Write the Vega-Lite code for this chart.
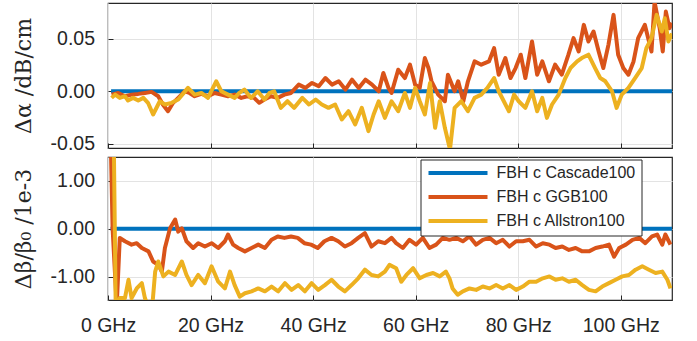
{
"$schema": "https://vega.github.io/schema/vega-lite/v6.json",
"padding": {"left": 11, "top": 2, "right": 5, "bottom": 5},
"background": "white",
"bounds": "flush",
"spacing": 9,
"config": {
  "view": {"stroke": "#262626", "strokeWidth": 1.2},
  "axis": {"labelFont": "Liberation Sans", "labelFontSize": 19.5, "labelColor": "#262626", "labelFlush": false, "gridColor": "#e3e3e3", "gridWidth": 1, "domain": false, "tickColor": "#262626", "tickSize": -5, "titleFont": "DejaVu Serif", "titleFontWeight": "normal", "titleFontSize": 22, "titleColor": "#262626"},
  "legend": {"orient": "none", "legendX": 312.5, "legendY": 2.5, "title": null, "symbolType": "stroke", "symbolSize": 3481, "symbolStrokeWidth": 4, "labelFont": "Liberation Sans", "labelFontSize": 16, "labelColor": "#262626", "padding": 6, "rowPadding": 7, "labelOffset": 7, "clipHeight": 15, "fillColor": "white", "strokeColor": "#262626", "strokeWidth": 1}
},
"datasets": {
"a": [
{"s":"C","f":0.6,"v":0},{"s":"C","f":110,"v":0},
{"s":"G","f":0.7,"v":-0.0032},{"s":"G","f":2.0,"v":-0.0016},{"s":"G","f":3.3,"v":-0.0047},{"s":"G","f":4.6,"v":-0.0032},{"s":"G","f":5.9,"v":-0.0025},{"s":"G","f":7.2,"v":-0.0016},{"s":"G","f":8.5,"v":-0.0006},{"s":"G","f":9.8,"v":-0.0047},{"s":"G","f":10.7,"v":-0.0126},{"s":"G","f":11.7,"v":-0.019},{"s":"G","f":12.7,"v":-0.011},{"s":"G","f":13.7,"v":-0.0063},{"s":"G","f":15.0,"v":0},{"s":"G","f":15.9,"v":-0.0016},{"s":"G","f":16.9,"v":-0.0047},{"s":"G","f":18.2,"v":-0.0025},{"s":"G","f":19.5,"v":-0.0047},{"s":"G","f":20.8,"v":-0.0016},{"s":"G","f":22.1,"v":-0.0032},{"s":"G","f":23.4,"v":-0.0047},{"s":"G","f":24.7,"v":-0.0032},{"s":"G","f":26.0,"v":-0.0063},{"s":"G","f":27.2,"v":-0.0047},{"s":"G","f":28.5,"v":-0.0063},{"s":"G","f":29.5,"v":-0.011},{"s":"G","f":30.5,"v":-0.0079},{"s":"G","f":31.8,"v":-0.0047},{"s":"G","f":33.1,"v":-0.0063},{"s":"G","f":34.4,"v":-0.0032},{"s":"G","f":35.7,"v":-0.0016},
{"s":"G","f":37.2,"v":0.0063},{"s":"G","f":38.5,"v":0.0032},{"s":"G","f":39.8,"v":0.0079},{"s":"G","f":41.1,"v":0.0047},{"s":"G","f":42.4,"v":0.0126},{"s":"G","f":43.7,"v":0.0063},{"s":"G","f":45.0,"v":0.0095},{"s":"G","f":46.3,"v":0.0016},{"s":"G","f":47.6,"v":0.011},{"s":"G","f":48.9,"v":0.0032},{"s":"G","f":50.2,"v":0.011},{"s":"G","f":51.5,"v":0.0063},{"s":"G","f":52.8,"v":0},{"s":"G","f":53.7,"v":0.0174},{"s":"G","f":54.7,"v":0.0032},{"s":"G","f":55.3,"v":-0.0016},{"s":"G","f":56.6,"v":0.0205},{"s":"G","f":57.9,"v":0.0126},{"s":"G","f":58.9,"v":0.0253},{"s":"G","f":59.9,"v":0.0063},{"s":"G","f":60.8,"v":0.0032},{"s":"G","f":61.8,"v":0.0316},{"s":"G","f":62.5,"v":0.0221},{"s":"G","f":63.1,"v":0.0095},{"s":"G","f":64.4,"v":-0.0032},{"s":"G","f":65.7,"v":-0.0095},{"s":"G","f":66.3,"v":0.0158},{"s":"G","f":67.6,"v":0},{"s":"G","f":68.3,"v":0.0095},{"s":"G","f":69.3,"v":-0.0095},{"s":"G","f":70.2,"v":0.0095},{"s":"G","f":71.5,"v":0.0284},{"s":"G","f":72.8,"v":0.0253},
{"s":"G","f":74.3,"v":0.0284},{"s":"G","f":75.3,"v":0.041},{"s":"G","f":76.2,"v":0.0158},{"s":"G","f":77.5,"v":0.0316},{"s":"G","f":78.5,"v":0.0126},{"s":"G","f":79.5,"v":0.0221},{"s":"G","f":80.5,"v":0.0348},{"s":"G","f":81.4,"v":0.0126},{"s":"G","f":82.7,"v":0.0474},{"s":"G","f":83.7,"v":0.0158},{"s":"G","f":84.7,"v":0.0284},{"s":"G","f":86.0,"v":0.0095},{"s":"G","f":87.2,"v":0.0253},{"s":"G","f":88.5,"v":0.0158},{"s":"G","f":89.8,"v":0.0348},{"s":"G","f":90.8,"v":0.0506},{"s":"G","f":91.8,"v":0.0379},{"s":"G","f":92.8,"v":0.0632},{"s":"G","f":93.7,"v":0.0474},{"s":"G","f":94.7,"v":0.0569},{"s":"G","f":95.7,"v":0.0379},{"s":"G","f":96.6,"v":0.0221},{"s":"G","f":97.6,"v":0.0442},{"s":"G","f":98.6,"v":0.0727},{"s":"G","f":99.5,"v":0.0348},{"s":"G","f":100.5,"v":0.0221},{"s":"G","f":101.5,"v":0.0158},{"s":"G","f":102.5,"v":0.0284},{"s":"G","f":103.4,"v":0.0506},{"s":"G","f":104.7,"v":0.0632},{"s":"G","f":106.0,"v":0.0379},{"s":"G","f":106.6,"v":0.085},{"s":"G","f":107.6,"v":0.06},{"s":"G","f":108.2,"v":0.0379},{"s":"G","f":108.8,"v":0.0758},{"s":"G","f":109.5,"v":0.06},{"s":"G","f":110,"v":0.065},
{"s":"A","f":0.7,"v":-0.0063},{"s":"A","f":1.4,"v":-0.0032},{"s":"A","f":2.3,"v":-0.0063},{"s":"A","f":3.3,"v":-0.0047},{"s":"A","f":3.9,"v":-0.0088},{"s":"A","f":4.9,"v":-0.0063},{"s":"A","f":5.9,"v":-0.0088},{"s":"A","f":6.9,"v":-0.0063},{"s":"A","f":7.8,"v":-0.011},{"s":"A","f":8.8,"v":-0.0221},{"s":"A","f":10.1,"v":-0.0095},{"s":"A","f":11.1,"v":-0.0126},{"s":"A","f":12.4,"v":-0.011},{"s":"A","f":13.7,"v":-0.0079},{"s":"A","f":15.6,"v":0.0032},{"s":"A","f":16.9,"v":-0.0032},{"s":"A","f":18.2,"v":-0.0016},{"s":"A","f":19.5,"v":-0.0063},{"s":"A","f":21.1,"v":0.0095},{"s":"A","f":22.1,"v":0},{"s":"A","f":23.4,"v":-0.0032},{"s":"A","f":24.7,"v":-0.0063},{"s":"A","f":25.6,"v":-0.0016},{"s":"A","f":26.6,"v":0.0016},{"s":"A","f":27.9,"v":-0.0063},{"s":"A","f":29.2,"v":0},{"s":"A","f":30.5,"v":-0.0079},{"s":"A","f":31.5,"v":-0.0016},{"s":"A","f":32.4,"v":0},{"s":"A","f":33.7,"v":-0.0158},{"s":"A","f":35.0,"v":-0.0095},{"s":"A","f":36.3,"v":-0.0158},
{"s":"A","f":37.9,"v":-0.0063},{"s":"A","f":39.2,"v":-0.0126},{"s":"A","f":40.5,"v":-0.0079},{"s":"A","f":41.7,"v":-0.0126},{"s":"A","f":43.0,"v":-0.0158},{"s":"A","f":44.3,"v":-0.0126},{"s":"A","f":45.6,"v":-0.0269},{"s":"A","f":46.9,"v":-0.019},{"s":"A","f":48.2,"v":-0.0316},{"s":"A","f":49.5,"v":-0.0158},{"s":"A","f":50.8,"v":-0.0379},{"s":"A","f":51.8,"v":-0.0221},{"s":"A","f":52.8,"v":-0.0095},{"s":"A","f":54.0,"v":-0.0253},{"s":"A","f":55.3,"v":-0.0095},{"s":"A","f":56.6,"v":-0.019},{"s":"A","f":57.9,"v":-0.0016},{"s":"A","f":58.9,"v":-0.0158},{"s":"A","f":59.9,"v":0.0032},{"s":"A","f":60.8,"v":-0.0095},{"s":"A","f":61.8,"v":-0.0221},{"s":"A","f":62.8,"v":0.0079},{"s":"A","f":63.8,"v":-0.0348},{"s":"A","f":64.7,"v":-0.0095},{"s":"A","f":65.7,"v":-0.0348},{"s":"A","f":66.7,"v":-0.0553},{"s":"A","f":67.6,"v":-0.0158},{"s":"A","f":68.9,"v":-0.0095},{"s":"A","f":70.2,"v":-0.019},{"s":"A","f":71.5,"v":-0.0063},{"s":"A","f":72.8,"v":-0.0032},
{"s":"A","f":74.0,"v":0.0032},{"s":"A","f":75.3,"v":0.0126},{"s":"A","f":76.2,"v":0},{"s":"A","f":77.2,"v":-0.0095},{"s":"A","f":78.2,"v":-0.019},{"s":"A","f":79.2,"v":-0.0032},{"s":"A","f":80.1,"v":-0.0095},{"s":"A","f":81.4,"v":-0.0158},{"s":"A","f":82.7,"v":0},{"s":"A","f":83.7,"v":-0.019},{"s":"A","f":84.7,"v":-0.0063},{"s":"A","f":85.6,"v":-0.0253},{"s":"A","f":86.6,"v":-0.0126},{"s":"A","f":87.9,"v":-0.0032},{"s":"A","f":89.2,"v":0.0126},{"s":"A","f":90.2,"v":0.0221},{"s":"A","f":91.5,"v":0.0284},{"s":"A","f":92.4,"v":0.0316},{"s":"A","f":93.7,"v":0.0348},{"s":"A","f":95.0,"v":0.0221},{"s":"A","f":96.0,"v":0.0126},{"s":"A","f":97.0,"v":0.0095},{"s":"A","f":98.3,"v":0},{"s":"A","f":99.2,"v":-0.0158},{"s":"A","f":100.2,"v":-0.0032},{"s":"A","f":101.5,"v":0.0032},{"s":"A","f":102.8,"v":0.0126},{"s":"A","f":104.1,"v":0.0221},{"s":"A","f":105.0,"v":0.0411},{"s":"A","f":106.0,"v":0.0506},{"s":"A","f":107.0,"v":0.0727},{"s":"A","f":108.0,"v":0.0569},{"s":"A","f":108.6,"v":0.0695},{"s":"A","f":109.3,"v":0.0474},{"s":"A","f":110,"v":0.055}
],
"b": [
{"s":"C","f":0.5,"v":0},{"s":"C","f":110,"v":0},
{"s":"G","f":0.5,"v":2.0},{"s":"G","f":0.9,"v":0.0},{"s":"G","f":1.7,"v":-1.6},{"s":"G","f":2.3,"v":-0.19},{"s":"G","f":3.3,"v":-0.26},{"s":"G","f":4.6,"v":-0.33},{"s":"G","f":5.6,"v":-0.30},{"s":"G","f":6.6,"v":-0.40},{"s":"G","f":7.9,"v":-0.47},{"s":"G","f":8.8,"v":-0.68},{"s":"G","f":9.8,"v":-0.75},{"s":"G","f":10.5,"v":-0.89},{"s":"G","f":11.1,"v":-0.40},{"s":"G","f":12.1,"v":0.01},{"s":"G","f":13.1,"v":0.19},{"s":"G","f":13.7,"v":-0.06},{"s":"G","f":14.4,"v":0.01},{"s":"G","f":15.3,"v":-0.26},{"s":"G","f":16.6,"v":-0.40},{"s":"G","f":17.6,"v":-0.30},{"s":"G","f":18.9,"v":-0.37},{"s":"G","f":20.2,"v":-0.30},{"s":"G","f":21.5,"v":-0.40},{"s":"G","f":22.8,"v":-0.26},{"s":"G","f":23.4,"v":-0.12},{"s":"G","f":24.4,"v":-0.33},{"s":"G","f":25.4,"v":-0.40},{"s":"G","f":26.7,"v":-0.47},{"s":"G","f":28.0,"v":-0.40},{"s":"G","f":29.3,"v":-0.33},{"s":"G","f":30.6,"v":-0.40},{"s":"G","f":31.9,"v":-0.23},{"s":"G","f":33.1,"v":-0.16},{"s":"G","f":34.4,"v":-0.19},{"s":"G","f":35.7,"v":-0.16},{"s":"G","f":37.0,"v":-0.19},{"s":"G","f":38.3,"v":-0.30},{"s":"G","f":39.6,"v":-0.33},{"s":"G","f":40.9,"v":-0.40},{"s":"G","f":42.2,"v":-0.26},{"s":"G","f":43.6,"v":-0.19},{"s":"G","f":44.9,"v":-0.26},{"s":"G","f":46.2,"v":-0.37},{"s":"G","f":47.5,"v":-0.30},{"s":"G","f":48.8,"v":-0.19},{"s":"G","f":50.1,"v":-0.09},{"s":"G","f":51.4,"v":-0.37},{"s":"G","f":52.7,"v":-0.26},{"s":"G","f":54.0,"v":-0.30},{"s":"G","f":55.3,"v":-0.19},{"s":"G","f":56.2,"v":-0.30},{"s":"G","f":57.5,"v":-0.40},{"s":"G","f":58.8,"v":-0.23},{"s":"G","f":60.1,"v":-0.33},{"s":"G","f":61.4,"v":-0.19},{"s":"G","f":62.7,"v":-0.40},{"s":"G","f":64.0,"v":-0.33},{"s":"G","f":65.3,"v":-0.19},{"s":"G","f":66.6,"v":-0.23},{"s":"G","f":67.9,"v":-0.19},{"s":"G","f":69.2,"v":-0.26},{"s":"G","f":70.5,"v":-0.16},{"s":"G","f":71.8,"v":-0.33},{"s":"G","f":73.1,"v":-0.23},{"s":"G","f":74.4,"v":-0.19},{"s":"G","f":75.7,"v":-0.30},{"s":"G","f":77.0,"v":-0.23},{"s":"G","f":78.3,"v":-0.37},{"s":"G","f":79.6,"v":-0.26},{"s":"G","f":80.9,"v":-0.26},{"s":"G","f":82.2,"v":-0.23},{"s":"G","f":83.5,"v":-0.37},{"s":"G","f":84.8,"v":-0.30},{"s":"G","f":86.1,"v":-0.33},{"s":"G","f":87.3,"v":-0.40},{"s":"G","f":88.6,"v":-0.37},{"s":"G","f":89.9,"v":-0.44},{"s":"G","f":91.2,"v":-0.40},{"s":"G","f":92.5,"v":-0.47},{"s":"G","f":93.8,"v":-0.47},{"s":"G","f":95.1,"v":-0.40},{"s":"G","f":96.4,"v":-0.37},{"s":"G","f":97.7,"v":-0.33},{"s":"G","f":98.7,"v":-0.58},{"s":"G","f":99.7,"v":-0.40},{"s":"G","f":101.0,"v":-0.33},{"s":"G","f":102.3,"v":-0.23},{"s":"G","f":103.6,"v":-0.19},{"s":"G","f":104.8,"v":-0.30},{"s":"G","f":106.1,"v":-0.16},{"s":"G","f":107.1,"v":-0.12},{"s":"G","f":108.1,"v":-0.33},{"s":"G","f":108.7,"v":-0.12},{"s":"G","f":109.7,"v":-0.33},
{"s":"A","f":1.0,"v":3.0},{"s":"A","f":1.5,"v":-1.6},{"s":"A","f":2.3,"v":-1.44},{"s":"A","f":3.3,"v":-1.44},{"s":"A","f":4.0,"v":-1.06},{"s":"A","f":4.6,"v":-1.44},{"s":"A","f":5.6,"v":-1.24},{"s":"A","f":6.6,"v":-1.13},{"s":"A","f":7.2,"v":-1.44},{"s":"A","f":8.0,"v":-1.65},{"s":"A","f":8.6,"v":-1.65},{"s":"A","f":9.2,"v":-0.89},{"s":"A","f":9.8,"v":-0.68},{"s":"A","f":10.8,"v":-0.99},{"s":"A","f":11.8,"v":-0.89},{"s":"A","f":13.1,"v":-0.96},{"s":"A","f":14.4,"v":-0.68},{"s":"A","f":15.3,"v":-0.96},{"s":"A","f":16.3,"v":-1.17},{"s":"A","f":17.6,"v":-0.96},{"s":"A","f":18.9,"v":-1.13},{"s":"A","f":20.2,"v":-0.78},{"s":"A","f":21.5,"v":-1.10},{"s":"A","f":22.8,"v":-1.24},{"s":"A","f":23.8,"v":-0.89},{"s":"A","f":24.7,"v":-1.17},{"s":"A","f":25.7,"v":-1.41},{"s":"A","f":26.7,"v":-1.34},{"s":"A","f":28.0,"v":-1.30},{"s":"A","f":29.3,"v":-1.24},{"s":"A","f":30.6,"v":-1.30},{"s":"A","f":31.9,"v":-1.20},{"s":"A","f":33.2,"v":-1.30},{"s":"A","f":34.5,"v":-1.13},{"s":"A","f":35.8,"v":-1.27},{"s":"A","f":37.1,"v":-1.17},{"s":"A","f":38.4,"v":-1.30},{"s":"A","f":39.7,"v":-1.13},{"s":"A","f":41.0,"v":-1.27},{"s":"A","f":42.3,"v":-1.17},{"s":"A","f":43.6,"v":-1.06},{"s":"A","f":44.9,"v":-1.20},{"s":"A","f":46.2,"v":-1.30},{"s":"A","f":47.5,"v":-1.17},{"s":"A","f":48.8,"v":-1.03},{"s":"A","f":50.1,"v":-0.85},{"s":"A","f":51.4,"v":-0.96},{"s":"A","f":52.7,"v":-0.99},{"s":"A","f":54.0,"v":-0.89},{"s":"A","f":54.9,"v":-0.75},{"s":"A","f":56.2,"v":-0.82},{"s":"A","f":57.2,"v":-1.10},{"s":"A","f":58.2,"v":-0.96},{"s":"A","f":59.5,"v":-0.82},{"s":"A","f":60.8,"v":-1.03},{"s":"A","f":62.1,"v":-0.96},{"s":"A","f":63.4,"v":-0.92},{"s":"A","f":64.7,"v":-0.99},{"s":"A","f":65.9,"v":-0.89},{"s":"A","f":66.6,"v":-1.03},{"s":"A","f":67.2,"v":-1.24},{"s":"A","f":68.2,"v":-1.37},{"s":"A","f":69.2,"v":-1.30},{"s":"A","f":70.5,"v":-1.24},{"s":"A","f":71.8,"v":-1.27},{"s":"A","f":73.1,"v":-1.20},{"s":"A","f":74.4,"v":-1.24},{"s":"A","f":75.7,"v":-1.17},{"s":"A","f":77.0,"v":-1.24},{"s":"A","f":78.3,"v":-1.17},{"s":"A","f":79.6,"v":-1.27},{"s":"A","f":80.9,"v":-1.20},{"s":"A","f":82.2,"v":-1.10},{"s":"A","f":83.5,"v":-1.10},{"s":"A","f":84.8,"v":-1.03},{"s":"A","f":86.1,"v":-0.99},{"s":"A","f":87.3,"v":-1.06},{"s":"A","f":88.6,"v":-1.03},{"s":"A","f":89.9,"v":-1.10},{"s":"A","f":91.2,"v":-1.06},{"s":"A","f":92.5,"v":-1.17},{"s":"A","f":93.8,"v":-1.27},{"s":"A","f":95.1,"v":-1.30},{"s":"A","f":96.4,"v":-1.20},{"s":"A","f":97.7,"v":-1.13},{"s":"A","f":99.0,"v":-1.06},{"s":"A","f":100.3,"v":-0.99},{"s":"A","f":101.6,"v":-0.96},{"s":"A","f":102.9,"v":-0.85},{"s":"A","f":104.2,"v":-0.78},{"s":"A","f":105.5,"v":-0.85},{"s":"A","f":106.8,"v":-0.92},{"s":"A","f":108.1,"v":-0.89},{"s":"A","f":109.1,"v":-1.06},{"s":"A","f":109.7,"v":-1.24}
]
},
"resolve": {"legend": {"color": "independent"}},
"vconcat": [
{
  "width": 564, "height": 145,
  "data": {"name": "a"},
  "mark": {"type": "line", "strokeWidth": 4, "strokeJoin": "round", "clip": true},
  "encoding": {
    "x": {"field": "f", "type": "quantitative", "scale": {"domain": [0, 110], "nice": false, "zero": false}, "axis": {"values": [0, 20, 40, 60, 80, 100], "labels": false, "title": null}},
    "y": {"field": "v", "type": "quantitative", "scale": {"domain": [-0.054, 0.084], "nice": false, "zero": false}, "axis": {"values": [-0.05, 0, 0.05], "labelExpr": "datum.value < 0 ? '-' + format(-datum.value, '.2f') : format(datum.value, '.2f')", "labelPadding": 18.5, "title": "Δα /dB/cm", "minExtent": 62, "maxExtent": 62, "titlePadding": 10.5}},
    "color": {"field": "s", "type": "nominal", "scale": {"domain": ["C", "G", "A"], "range": ["#0072BD", "#D95319", "#EDB120"]}, "legend": null}
  }
},
{
  "width": 564, "height": 143,
  "data": {"name": "b"},
  "mark": {"type": "line", "strokeWidth": 4, "strokeJoin": "round", "clip": true},
  "encoding": {
    "x": {"field": "f", "type": "quantitative", "scale": {"domain": [0, 110], "nice": false, "zero": false}, "axis": {"values": [0, 20, 40, 60, 80, 100], "labelExpr": "datum.value + ' GHz'", "labelPadding": 21, "title": null}},
    "y": {"field": "v", "type": "quantitative", "scale": {"domain": [-1.48, 1.49], "nice": false, "zero": false}, "axis": {"values": [-1, 0, 1], "labelExpr": "datum.value < 0 ? '-' + format(-datum.value, '.2f') : format(datum.value, '.2f')", "labelPadding": 18.5, "title": "Δβ/β₀ /1e-3", "minExtent": 62, "maxExtent": 62, "titlePadding": 10.5}},
    "color": {"field": "s", "type": "nominal", "scale": {"domain": ["C", "G", "A"], "range": ["#0072BD", "#D95319", "#EDB120"]}, "legend": {"labelExpr": "datum.label == 'C' ? 'FBH c Cascade100' : datum.label == 'G' ? 'FBH c GGB100' : 'FBH c Allstron100'"}}
  }
}
]
}
